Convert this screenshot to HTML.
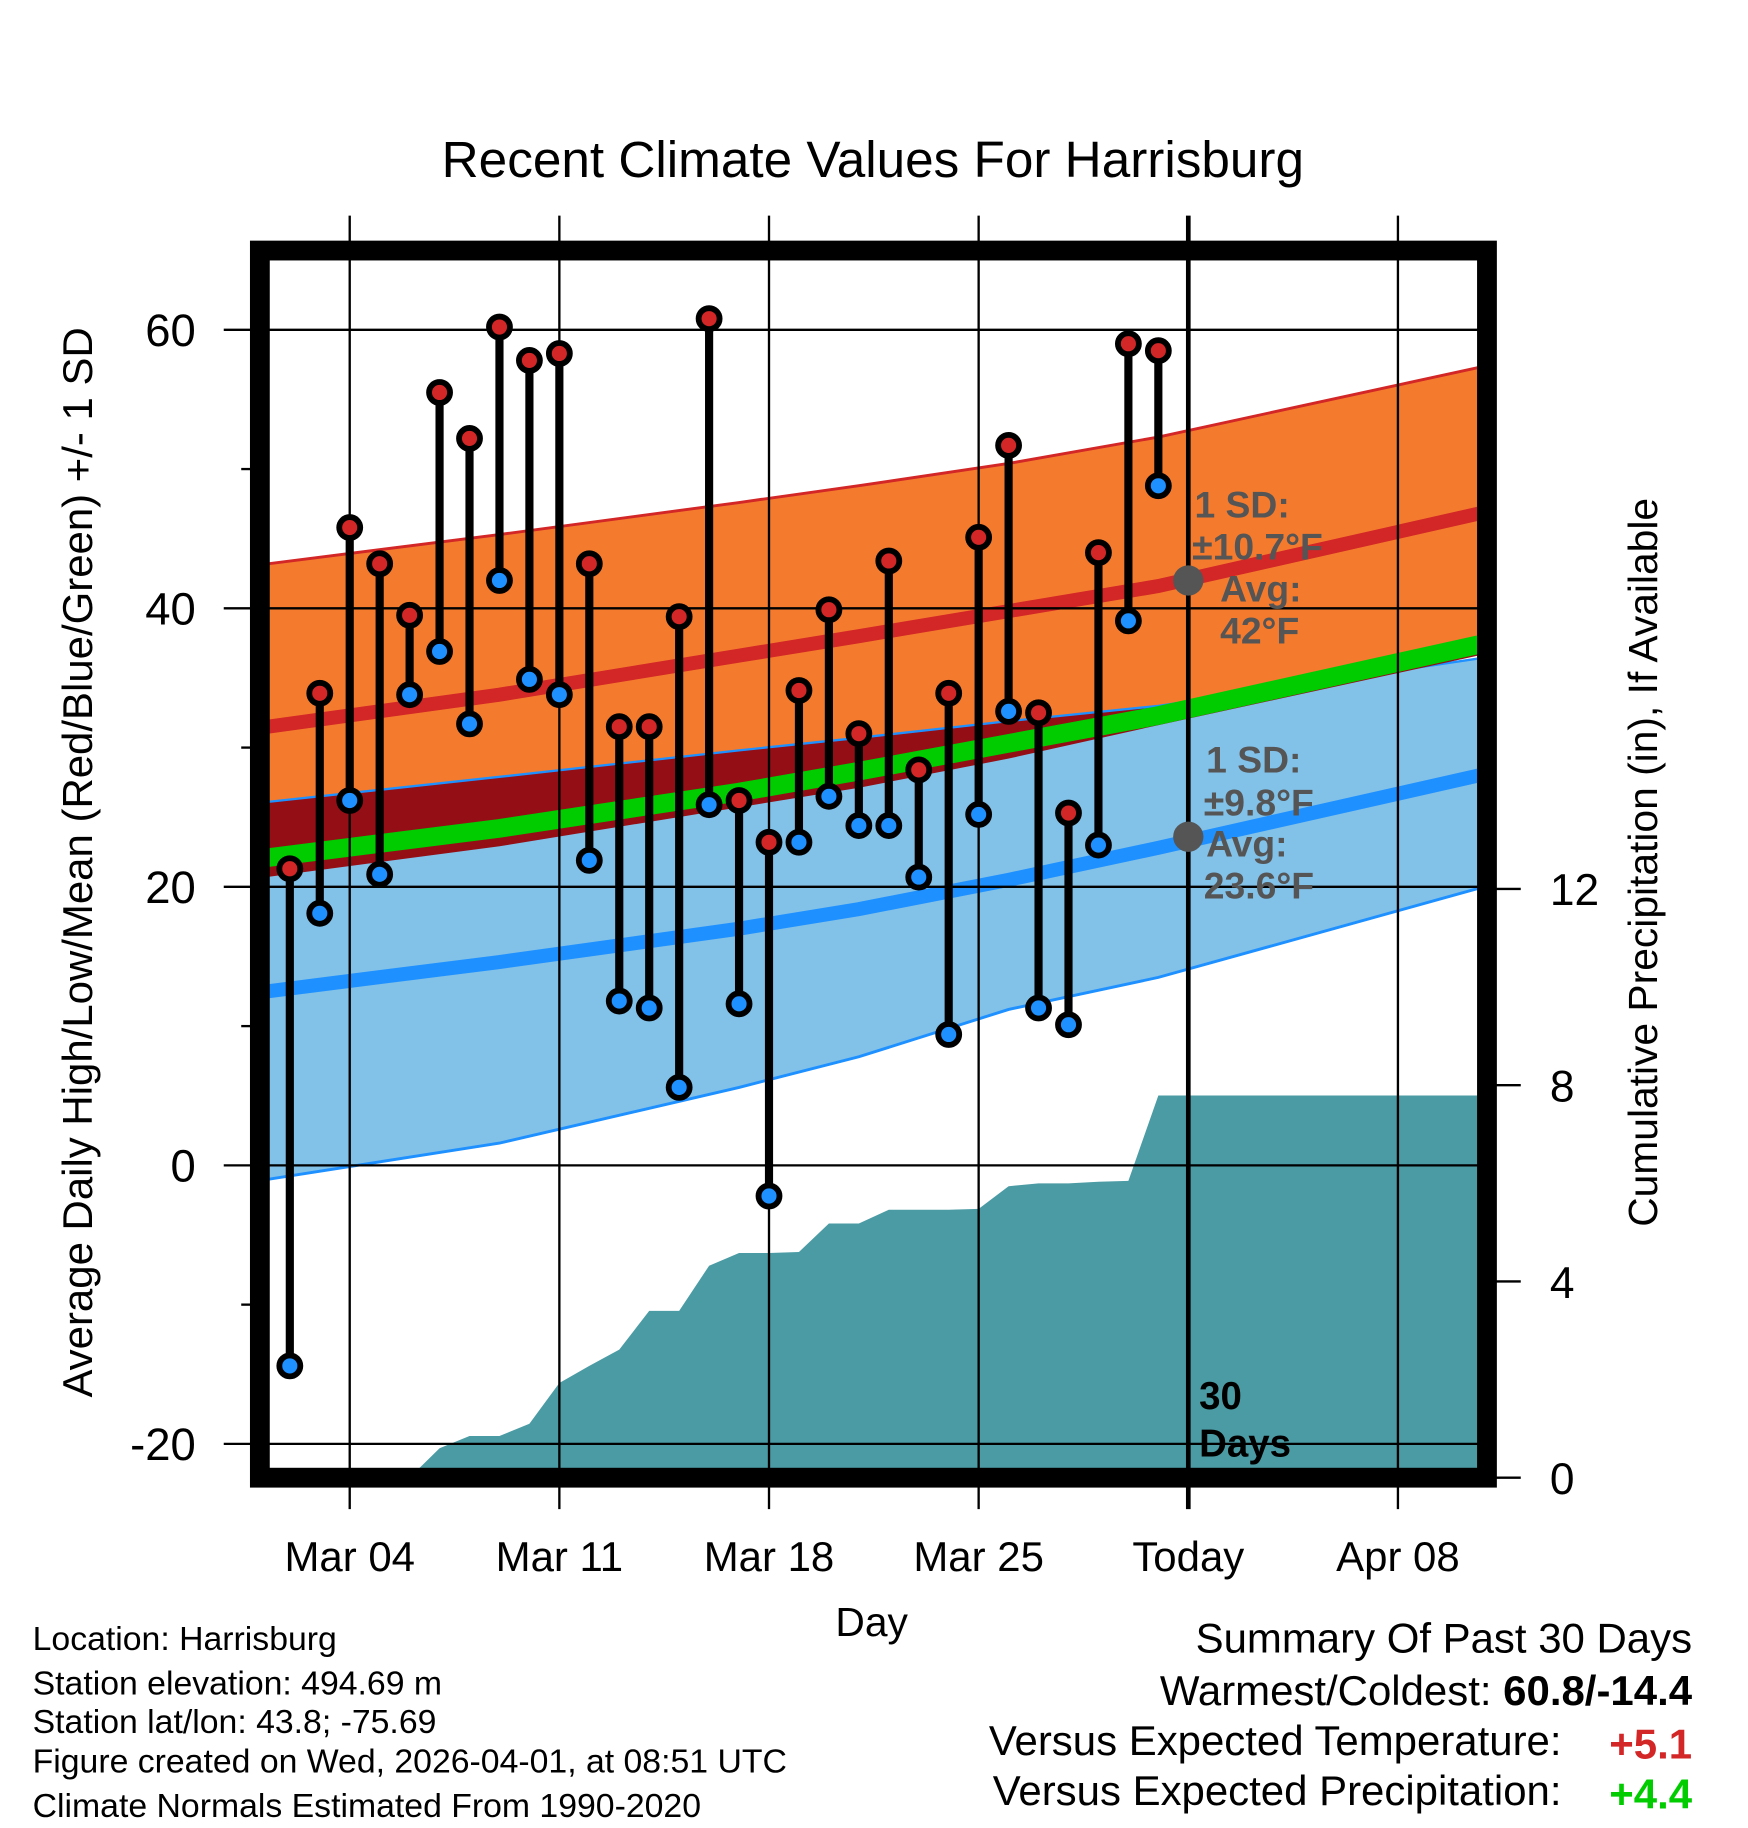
<!DOCTYPE html>
<html><head><meta charset="utf-8"><style>
html,body{margin:0;padding:0;background:#fff;}
svg{display:block;font-family:"Liberation Sans",sans-serif;}
</style></head><body>
<svg id="chart" xmlns="http://www.w3.org/2000/svg" width="1748" height="1828" viewBox="0 0 1500 1568.6" preserveAspectRatio="none">
<defs><clipPath id="plotclip"><rect x="230" y="222" width="1038" height="1038"/></clipPath></defs>
<g id="plot" clip-path="url(#plotclip)"></g>
<g id="over"></g>
</svg>
<script>
// ---- data ----
const days = ["Mar 02","Mar 03","Mar 04","Mar 05","Mar 06","Mar 07","Mar 08","Mar 09","Mar 10","Mar 11","Mar 12","Mar 13","Mar 14","Mar 15","Mar 16","Mar 17","Mar 18","Mar 19","Mar 20","Mar 21","Mar 22","Mar 23","Mar 24","Mar 25","Mar 26","Mar 27","Mar 28","Mar 29","Mar 30","Mar 31"];
const dayIndex = [1,2,3,4,5,6,7,8,9,10,11,12,13,14,15,16,17,18,19,20,21,22,23,24,25,26,27,28,29,30];
const highs = [21.3,33.9,45.8,43.2,39.5,55.5,52.2,60.2,57.8,58.3,43.2,31.5,31.5,39.4,60.8,26.2,23.2,34.1,39.9,31.0,43.4,28.4,33.9,45.1,51.7,32.5,25.3,44.0,59.0,58.5];
const lows = [-14.4,18.1,26.2,20.9,33.8,36.9,31.7,42.0,34.9,33.8,21.9,11.8,11.3,5.6,25.9,11.6,-2.2,23.2,26.5,24.4,24.4,20.7,9.4,25.2,32.6,11.3,10.1,23.0,39.1,48.8];
const precipDays = [4,5,6,7,8,9,10,11,12,13,14,15,16,17,18,19,20,21,22,23,24,25,26,27,28,29,30,40.7];
const precipCum = [0,0,0.6,0.85,0.85,1.1,1.93,2.28,2.61,3.4,3.4,4.32,4.58,4.58,4.6,5.18,5.18,5.46,5.46,5.46,5.48,5.94,6.0,6.0,6.03,6.05,7.79,7.79];
const normDays = [0.27,8,16,20,25,30,40.7];
const hiMean = [31.5,33.8,36.6,38.0,39.8,41.6,46.8];
const hiHi = [43.2,45.3,47.6,48.8,50.4,52.3,57.3];
const hiLo = [20.8,23.0,25.8,27.2,29.3,31.7,36.7];
const avgMean = [22.1,24.2,26.8,28.3,30.3,32.3,37.4];
const loMean = [12.5,14.6,17.0,18.4,20.5,22.8,28.0];
const loHi = [26.1,27.9,29.8,30.7,31.9,33.0,36.4];
const loLo = [-1.0,1.6,5.6,7.8,11.2,13.5,19.9];
const yTicks = [-20,0,20,40,60];
const pTicks = [0,4,8,12];
const xTickDays = [3,10,17,24,31,38];
const xTickLabels = ["Mar 04","Mar 11","Mar 18","Mar 25","Today","Apr 08"];

// ---- axes ----
const X = d => 223 + 25.7*d;
const Y = v => 1000 - v*11.95;
const YP = p => 1268 - p*42.1;
const NS="http://www.w3.org/2000/svg";
const plot=document.getElementById('plot'), over=document.getElementById('over');
function mk(tag,attrs,parent){const e=document.createElementNS(NS,tag);for(const k in attrs)e.setAttribute(k,attrs[k]);parent.appendChild(e);return e;}
function pts(ds,vs){return ds.map((d,i)=>X(d).toFixed(1)+','+Y(vs[i]).toFixed(1));}
function band(top,bot){return pts(normDays,top).concat(pts(normDays,bot).reverse()).join(' ');}

let e;
e=mk('polygon',{points:band(hiHi,hiLo),fill:'#f47b2e'},plot);


e=mk('polygon',{points:band(loHi,loLo),fill:'#82c1e8'},plot);


const cp=mk('clipPath',{id:'ovclip'},document.querySelector('defs'));
mk('polygon',{points:band(hiHi,hiLo)},cp);
e=mk('polygon',{points:band(loHi,loLo),fill:'#930e15','clip-path':'url(#ovclip)'},plot);


function line(ds,vs,col,w,name){const l=mk('polyline',{points:pts(ds,vs).join(' '),fill:'none',stroke:col,'stroke-width':w},plot);
 
 }
line(normDays,hiHi,'#d32626',2.5,'high-upper-sd-line');
line(normDays,loHi,'#1e90ff',2,'low-upper-sd-line');
line(normDays,hiLo,'#930e15',2,'high-lower-sd-line');
line(normDays,loLo,'#1e90ff',2.5,'low-lower-sd-line');
line(normDays,hiMean,'#d32626',12,'normal-high-line');
line(normDays,loMean,'#1e90ff',12,'normal-low-line');
line(normDays,avgMean,'#00cc00',16,'normal-mean-line');

const pp=[X(precipDays[0])+','+YP(0)].concat(precipDays.map((d,i)=>X(d).toFixed(1)+','+YP(precipCum[i]).toFixed(1))).concat([X(40.7)+','+YP(0)]);
e=mk('polygon',{points:pp.join(' '),fill:'#4a9ba4'},plot);



yTicks.forEach(v=>{e=mk('line',{x1:192,x2:1268,y1:Y(v),y2:Y(v),stroke:'#000','stroke-width':2},over);
 
 });
[-10,10,30,50].forEach(v=>{mk('line',{x1:207,x2:216,y1:Y(v),y2:Y(v),stroke:'#000','stroke-width':2},over);});
xTickDays.forEach((d,i)=>{e=mk('line',{x1:X(d),x2:X(d),y1:185,y2:1295,stroke:'#000','stroke-width':i==4?4:2},over);
 
 });
pTicks.forEach(p=>{mk('line',{x1:1280,x2:1305,y1:YP(p),y2:YP(p),stroke:'#000','stroke-width':2},over);});

dayIndex.forEach((d,i)=>{
 e=mk('line',{x1:X(d),x2:X(d),y1:Y(highs[i]),y2:Y(lows[i]),stroke:'#000','stroke-width':7},over);
 
 
});
dayIndex.forEach((d,i)=>{
 e=mk('circle',{cx:X(d),cy:Y(highs[i]),r:9,fill:'#d32626',stroke:'#000','stroke-width':5},over);
 
 
 e=mk('circle',{cx:X(d),cy:Y(lows[i]),r:9,fill:'#1e90ff',stroke:'#000','stroke-width':5},over);
 
 
});

function txt(x,y,s,attrs,name){const t=mk('text',Object.assign({x:x,y:y},attrs),over);t.textContent=s;
 
 return t;}
const ga={fill:'#555','font-size':32,'font-weight':'bold'};
e=mk('circle',{cx:X(31),cy:Y(42),r:13,fill:'#555'},over);


e=mk('circle',{cx:X(31),cy:Y(23.6),r:13,fill:'#555'},over);


txt(1025,444,'1 SD:',ga,'high-sd-label');
txt(1023,480,'±10.7°F',ga,'high-sd-value');
txt(1047,516,'Avg:',ga,'high-avg-label');
txt(1047,552,'42°F',ga,'high-avg-value');
txt(1035,663,'1 SD:',ga,'low-sd-label');
txt(1033,700,'±9.8°F',ga,'low-sd-value');
txt(1035,735,'Avg:',ga,'low-avg-label');
txt(1033,771,'23.6°F',ga,'low-avg-value');
txt(1029,1209,'30',{'font-size':33,'font-weight':'bold'},'thirty-days-label');
txt(1029,1250,'Days',{'font-size':33,'font-weight':'bold'},'thirty-days-label-2');

e=mk('rect',{x:223,y:215,width:1053,height:1053,fill:'none',stroke:'#000','stroke-width':17},over);



yTicks.forEach(v=>txt(168,Y(v)+14,String(v),{'font-size':39,'text-anchor':'end'},'y-tick-label'));
pTicks.forEach(p=>txt(1330,YP(p)+14,String(p),{'font-size':38},'y2-tick-label'));
xTickDays.forEach((d,i)=>txt(X(d),1348,xTickLabels[i],{'font-size':36,'text-anchor':'middle'},'x-tick-label'));

txt(749,152,'Recent Climate Values For Harrisburg',{'font-size':44,'text-anchor':'middle'},'chart-title');
txt(748,1404,'Day',{'font-size':35,'text-anchor':'middle'},'x-axis-title');
txt(0,0,'Average Daily High/Low/Mean (Red/Blue/Green) +/- 1 SD',{'font-size':36,'text-anchor':'middle',transform:'translate(79,740) rotate(-90)'},'y-axis-title');
txt(0,0,'Cumulative Precipitation (in), If Available',{'font-size':35,'text-anchor':'middle',transform:'translate(1422,740) rotate(-90)'},'y2-axis-title');

const info=['Location: Harrisburg','Station elevation: 494.69 m','Station lat/lon: 43.8; -75.69','Figure created on Wed, 2026-04-01, at 08:51 UTC','Climate Normals Estimated From 1990-2020'];
const infoY=[1416,1454,1487,1521,1559];
info.forEach((s,i)=>txt(28,infoY[i],s,{'font-size':29},'station-info-line'));

txt(1452,1418,'Summary Of Past 30 Days',{'font-size':36,'text-anchor':'end'},'summary-title');
const w=txt(1452,1463,'',{'font-size':36,'text-anchor':'end'},'warmest-coldest');
w.innerHTML='Warmest/Coldest: <tspan font-weight="bold">60.8/-14.4</tspan>';
txt(1340,1506,'Versus Expected Temperature:',{'font-size':36,'text-anchor':'end'},'temp-departure-label');
txt(1452,1509,'+5.1',{'font-size':36,'text-anchor':'end','font-weight':'bold',fill:'#d32626'},'temp-departure-value');
txt(1340,1549,'Versus Expected Precipitation:',{'font-size':36,'text-anchor':'end'},'precip-departure-label');
txt(1452,1552,'+4.4',{'font-size':36,'text-anchor':'end','font-weight':'bold',fill:'#00cc00'},'precip-departure-value');
</script>
</body></html>
